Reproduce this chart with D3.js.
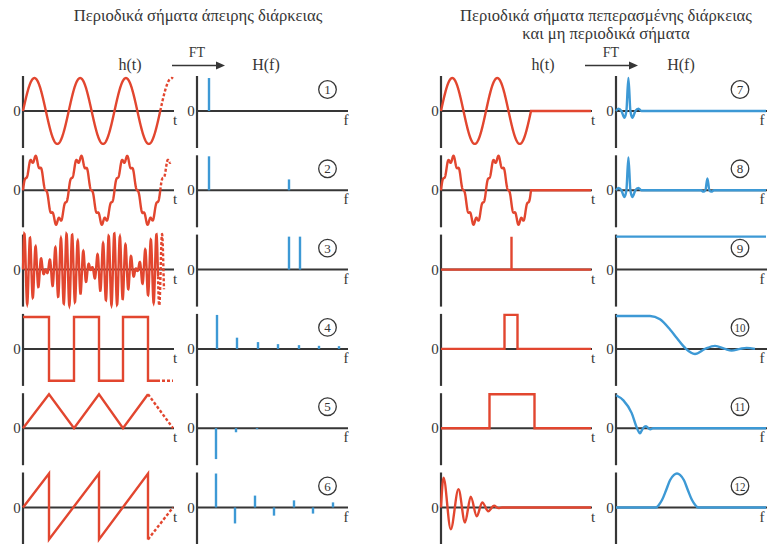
<!DOCTYPE html>
<html>
<head>
<meta charset="utf-8">
<script src="https://cdn.jsdelivr.net/npm/d3@7"></script>
<style>
  html, body { margin: 0; padding: 0; background: #fff; }
  svg { display: block; }
  svg text { font-family: 'Liberation Serif', 'DejaVu Serif', 'Times New Roman', serif; }
</style>
</head>
<body>
<svg id="chart" width="767" height="544"></svg>
<script>
// ---------------- data ----------------
// Headings
const titleLeft = ["Περιοδικά σήματα άπειρης διάρκειας"];
const titleRight = ["Περιοδικά σήματα πεπερασμένης διάρκειας", "και μη περιοδικά σήματα"];
const timeLabel = "h(t)", freqLabel = "H(f)", transformLabel = "FT";

// Sinusoidal signals: [frequency (cycles per time unit), amplitude]
const sineComponents = [[1.093, 0.97]];
const rippleComponents = [[1.093, 0.93], [8.74, 0.1]];
const beatComponents = [[8.35, 0.53], [9.45, 0.53]];
const burstComponents = [[1.111, 0.97]];
const rippleBurstComponents = [[1.111, 0.93], [8.89, 0.1]];
// [end of solid part, end of dashed continuation] (time units)
const sineSpan = [2.745, 3.0];
const rippleSpan = [2.745, 2.95];
const beatSpan = [2.7, 2.82];
const burstSpan = [1.8];          // signal stops after two periods

// Piecewise signals [t, h]
const squarePoints = [[0, 0.94], [0.52, 0.94], [0.52, -0.94], [1.02, -0.94], [1.02, 0.94], [1.52, 0.94],
  [1.52, -0.94], [2.0, -0.94], [2.0, 0.94], [2.5, 0.94], [2.5, -0.94], [2.68, -0.94]];
const squareTail = [[2.68, -0.94], [3.0, -0.94]];
const trianglePoints = [[0, 0], [0.52, 1.0], [1.02, 0], [1.52, 1.0], [2.0, 0], [2.5, 1.0]];
const triangleTail = [[2.5, 1.0], [3.0, 0]];
const sawPoints = [[0, 0], [0.52, 1.0], [0.52, -0.94], [1.52, 1.0], [1.52, -0.94], [2.5, 1.0], [2.5, -0.94]];
const sawTail = [[2.5, -0.94], [3.0, 0]];
const impulsePoints = [[0, 0], [1.41, 0], [1.41, 0.97], [1.41, 0], [3.0, 0]];
const narrowPulsePoints = [[0, 0], [1.27, 0], [1.27, 1.0], [1.53, 1.0], [1.53, 0], [3.0, 0]];
const widePulsePoints = [[0, 0], [0.97, 0], [0.97, 1.0], [1.87, 1.0], [1.87, 0], [3.0, 0]];
const dampedPoints = [[0, 0], [0.05, 0.88], [0.195, -0.64], [0.35, 0.54], [0.48, -0.44], [0.595, 0.32],
  [0.715, -0.26], [0.825, 0.15], [0.945, -0.11], [1.06, 0.05], [1.15, -0.02], [1.22, 0], [3.0, 0]];

// Line spectra: frequencies and amplitudes
const sineLineFreqs = [0.6], sineLineAmps = [0.97];
const rippleLineFreqs = [0.6, 4.6], rippleLineAmps = [1.0, 0.32];
const beatLineFreqs = [4.6, 5.15], beatLineAmps = [0.97, 0.97];
const squareLineFreqs = [1.0, 2.0, 3.05, 4.05, 5.1, 6.1, 7.1];
const squareLineAmps = [1.0, 0.33, 0.2, 0.14, 0.11, 0.09, 0.08];
const triangleLineFreqs = [0.95, 1.95, 3.0];
const triangleLineAmps = [-0.91, -0.12, -0.03];
const sawLineFreqs = [0.95, 1.9, 2.9, 3.85, 4.85, 5.8, 6.8];
const sawLineAmps = [1.0, -0.47, 0.35, -0.24, 0.21, -0.18, 0.15];

// Continuous spectra [f, H]
const burstSpectrum = [[0, 0], [0.12, 0.07], [0.27, 0], [0.42, -0.2], [0.52, 0], [0.62, 0.97], [0.72, 0],
  [0.82, -0.2], [0.97, 0], [1.12, 0.07], [1.27, 0], [7.5, 0]];
const rippleBurstSpectrum = [[0, 0], [0.12, 0.07], [0.27, 0], [0.42, -0.2], [0.52, 0], [0.62, 0.97], [0.72, 0],
  [0.82, -0.2], [0.97, 0], [1.12, 0.07], [1.27, 0], [4.25, 0], [4.37, -0.04], [4.47, 0], [4.57, 0.35],
  [4.67, 0], [4.77, -0.04], [4.9, 0], [7.5, 0]];
const impulseSpectrum = [[0, 0.97], [7.5, 0.97]];
const narrowPulseSpectrum = [[0, 0.97], [1.7, 0.97], [2.2, 0.87], [2.7, 0.57], [3.03, 0.33], [3.37, 0.08],
  [3.5, 0], [3.95, -0.15], [4.45, 0], [4.95, 0.09], [5.45, 0], [5.78, -0.05], [6.2, 0], [6.53, 0.03], [6.95, 0]];
const widePulseSpectrum = [[0, 0.97], [0.37, 0.82], [0.78, 0.45], [1.05, 0], [1.2, -0.15], [1.35, 0],
  [1.5, 0.06], [1.62, 0], [1.72, -0.03], [1.85, 0], [7.5, 0]];
const dampedSpectrum = [[0, 0], [2.0, 0], [2.12, 0.06], [2.3, 0.22], [2.5, 0.5], [2.7, 0.8], [2.9, 0.96],
  [3.05, 1.0], [3.2, 0.96], [3.4, 0.8], [3.6, 0.5], [3.8, 0.22], [3.98, 0.06], [4.1, 0], [7.5, 0]];

// ---------------- drawing ----------------
const INK = "#363636", RED = "#e2462f", BLUE = "#3d99d5";
const FONT = "'Liberation Serif', 'DejaVu Serif', 'Times New Roman', serif";
const svg = d3.select("#chart");

const columns = [
  { hx: 23, fx: 197, circleX: 327.5, titleX: 198, titleLines: titleLeft, ht: 130, arrow: [172, 225], Hf: 266, ft: 197, fLabel: 346 },
  { hx: 441, fx: 616, circleX: 740, titleX: 606, titleLines: titleRight, ht: 543, arrow: [585, 638], Hf: 681, ft: 611, fLabel: 762 }
];
const rowZero = r => 111 + r * 79.3;
const axisLen = 150;

function sampleSines(comps, t0, t1, n) {
  return d3.range(n + 1).map(i => {
    const t = t0 + (t1 - t0) * i / n;
    return [t, d3.sum(comps, c => c[1] * Math.sin(2 * Math.PI * c[0] * t))];
  });
}

function label(sel, x, y, size, txt) {
  return sel.append("text").attr("x", x).attr("y", y).attr("text-anchor", "middle")
    .attr("font-family", FONT).attr("font-size", size).attr("fill", INK).text(txt);
}

const panels = [
  { id: 1, col: 0, row: 0, h: { sines: sineComponents, span: sineSpan }, H: { freqs: sineLineFreqs, amps: sineLineAmps } },
  { id: 2, col: 0, row: 1, h: { sines: rippleComponents, span: rippleSpan }, H: { freqs: rippleLineFreqs, amps: rippleLineAmps } },
  { id: 3, col: 0, row: 2, h: { sines: beatComponents, span: beatSpan }, H: { freqs: beatLineFreqs, amps: beatLineAmps } },
  { id: 4, col: 0, row: 3, h: { points: squarePoints, tail: squareTail }, H: { freqs: squareLineFreqs, amps: squareLineAmps } },
  { id: 5, col: 0, row: 4, h: { points: trianglePoints, tail: triangleTail }, H: { freqs: triangleLineFreqs, amps: triangleLineAmps } },
  { id: 6, col: 0, row: 5, h: { points: sawPoints, tail: sawTail }, H: { freqs: sawLineFreqs, amps: sawLineAmps } },
  { id: 7, col: 1, row: 0, h: { sines: burstComponents, burst: burstSpan }, H: { curve: burstSpectrum } },
  { id: 8, col: 1, row: 1, h: { sines: rippleBurstComponents, burst: burstSpan }, H: { curve: rippleBurstSpectrum } },
  { id: 9, col: 1, row: 2, h: { points: impulsePoints }, H: { curve: impulseSpectrum, linear: true } },
  { id: 10, col: 1, row: 3, h: { points: narrowPulsePoints }, H: { curve: narrowPulseSpectrum } },
  { id: 11, col: 1, row: 4, h: { points: widePulsePoints }, H: { curve: widePulseSpectrum } },
  { id: 12, col: 1, row: 5, h: { points: dampedPoints, smooth: true }, H: { curve: dampedSpectrum } }
];

// headings and the FT arrow of each column
columns.forEach(c => {
  c.titleLines.forEach((line, i) => label(svg, c.titleX, 21 + i * 18, 16.6, line));
  label(svg, c.ht, 70, 16, timeLabel);
  label(svg, c.Hf, 70, 16, freqLabel);
  label(svg, c.ft, 57, 14, transformLabel);
  const [a0, a1] = c.arrow;
  svg.append("line").attr("x1", a0).attr("x2", a1 - 7).attr("y1", 65.5).attr("y2", 65.5)
    .attr("stroke", INK).attr("stroke-width", 1.6);
  svg.append("path").attr("d", `M${a1},65.5 L${a1 - 9},61.5 L${a1 - 9},69.5 Z`).attr("fill", INK);
});

function drawAxes(g, x0, zero, name, nameX) {
  g.append("line").attr("x1", x0).attr("x2", x0).attr("y1", zero - 35).attr("y2", zero + 37)
    .attr("stroke", INK).attr("stroke-width", 2.2);
  g.append("line").attr("x1", x0).attr("x2", x0 + axisLen + 1).attr("y1", zero).attr("y2", zero)
    .attr("stroke", INK).attr("stroke-width", 2);
  label(g, x0 - 6, zero + 5, 15, "0");
  label(g, nameX, zero + 14, 15, name);
}

panels.forEach(p => {
  const c = columns[p.col];
  const zero = rowZero(p.row);
  const g = svg.append("g");
  const y = d3.scaleLinear().domain([-1.09, 1.03]).range([zero + 37, zero - 35]);
  const x = d3.scaleLinear().domain([0, 3]).range([c.hx, c.hx + axisLen]);
  const fx = d3.scaleLinear().domain([0, 7.5]).range([c.fx, c.fx + axisLen]);

  drawAxes(g, c.hx, zero, "t", c.hx + axisLen + 2);
  drawAxes(g, c.fx, zero, "f", c.fLabel);

  // time signal
  const line = d3.line().x(d => x(d[0])).y(d => y(d[1]));
  const redPath = (data, dashed, gen) => g.append("path").datum(data).attr("d", gen || line)
    .attr("fill", "none").attr("stroke", RED).attr("stroke-width", 2.4)
    .attr("stroke-linejoin", "miter").attr("stroke-dasharray", dashed ? "3,2" : null);
  const h = p.h;
  if (h.sines && h.span) {
    redPath(sampleSines(h.sines, 0, h.span[0], 900), false);
    redPath(sampleSines(h.sines, h.span[0], h.span[1], 120), true);
  } else if (h.sines && h.burst) {
    const pts = sampleSines(h.sines, 0, h.burst[0], 700);
    pts.push([3, 0]);
    redPath(pts, false);
  } else if (h.points) {
    redPath(h.points, false, h.smooth ? d3.line().x(d => x(d[0])).y(d => y(d[1])).curve(d3.curveMonotoneX) : line);
    if (h.tail) redPath(h.tail, true);
  }

  // spectrum
  const H = p.H;
  if (H.freqs) {
    g.selectAll(null).data(d3.zip(H.freqs, H.amps)).join("line")
      .attr("x1", d => fx(d[0])).attr("x2", d => fx(d[0]))
      .attr("y1", y(0)).attr("y2", d => y(d[1]))
      .attr("stroke", BLUE).attr("stroke-width", 2.4);
  } else {
    const sl = d3.line().x(d => fx(d[0])).y(d => y(d[1]))
      .curve(H.linear ? d3.curveLinear : d3.curveMonotoneX);
    g.append("path").datum(H.curve).attr("d", sl).attr("fill", "none")
      .attr("stroke", BLUE).attr("stroke-width", 2.4);
  }

  // panel number
  g.append("circle").attr("cx", c.circleX).attr("cy", zero - 21.5).attr("r", 8.8)
    .attr("fill", "none").attr("stroke", INK).attr("stroke-width", 1.3);
  const num = label(g, c.circleX, zero - 17, 13, p.id);
  if (p.id >= 10) num.attr("font-size", 12).attr("textLength", 11).attr("lengthAdjust", "spacingAndGlyphs");
});
</script>
</body>
</html>
